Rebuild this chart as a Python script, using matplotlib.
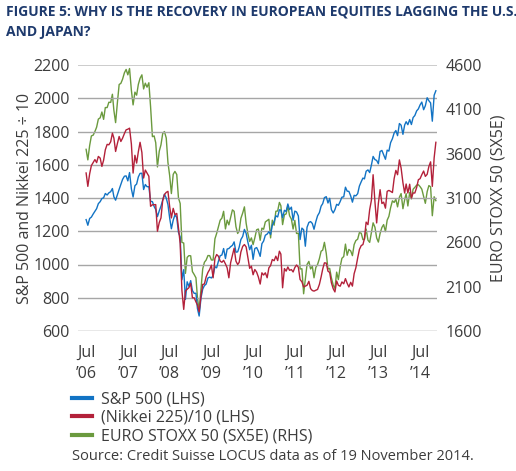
import matplotlib.pyplot as plt
import pandas as pd

# semi-monthly points (15th and month end) from 30 Jun 2006 to mid Nov 2014
sp500 = [
    # 2006 (from Jun 30)
    1270, 1236, 1277, 1285, 1304, 1320, 1336, 1366, 1378, 1397, 1401, 1427, 1418,
    # 2007
    1431, 1438, 1457, 1407, 1387, 1421, 1452, 1482, 1512, 1531, 1533, 1503,
    1553, 1455, 1406, 1474, 1484, 1527, 1548, 1549, 1451, 1481, 1468, 1468,
    # 2008
    1380, 1378, 1349, 1331, 1288, 1323, 1351, 1386, 1423, 1400, 1360, 1280,
    1215, 1267, 1298, 1283, 1193, 1166, 908, 969, 790, 896, 869, 903,
    # 2009
    843, 826, 827, 735, 690, 798, 852, 873, 882, 919, 924, 919,
    932, 987, 980, 1021, 1053, 1057, 1096, 1036, 1093, 1096, 1107, 1115,
    # 2010
    1136, 1074, 1076, 1104, 1150, 1169, 1211, 1187, 1135, 1089, 1116, 1031,
    1096, 1102, 1080, 1049, 1125, 1141, 1176, 1183, 1197, 1181, 1236, 1258,
    # 2011
    1293, 1286, 1329, 1327, 1281, 1326, 1319, 1364, 1330, 1345, 1266, 1321,
    1316, 1292, 1150, 1219, 1209, 1110, 1224, 1253, 1258, 1247, 1212, 1258,
    # 2012
    1293, 1312, 1351, 1366, 1402, 1408, 1370, 1398, 1330, 1310, 1330, 1362,
    1356, 1379, 1405, 1407, 1465, 1441, 1440, 1412, 1375, 1416, 1413, 1426,
    # 2013
    1472, 1498, 1520, 1515, 1561, 1569, 1553, 1598, 1650, 1631, 1626, 1606,
    1680, 1686, 1661, 1633, 1688, 1682, 1733, 1757, 1791, 1806, 1775, 1848,
    # 2014
    1838, 1783, 1839, 1859, 1841, 1872, 1842, 1884, 1896, 1924, 1936, 1960,
    1977, 1931, 1955, 2003, 1985, 1972, 1862, 2018, 2045,
]

nikkei = [
    # 2006
    15505, 14700, 15457, 15950, 16140, 16310, 16128, 16500, 16399, 15900, 16274, 16900, 17226,
    # 2007
    17200, 17383, 17900, 17604, 16800, 17288, 17700, 17400, 17600, 17876, 18100, 18138,
    18200, 17249, 15500, 16569, 16100, 16786, 17350, 16738, 15200, 15681, 15500, 15308,
    # 2008
    13500, 13592, 13600, 13603, 12000, 12526, 12800, 13850, 14200, 14339, 14400, 13482,
    12800, 13377, 13000, 13073, 12200, 11260, 8450, 7300, 8400, 8512, 8600, 8860,
    # 2009
    8000, 7994, 7750, 7568, 7150, 8110, 8800, 8828, 9250, 9523, 9700, 9958,
    9200, 10357, 10600, 10493, 10200, 10133, 10250, 10035, 9800, 9200, 10100, 10546,
    # 2010
    10980, 10198, 10000, 10126, 10750, 11090, 11200, 11057, 10450, 9769, 9900, 9383,
    9700, 9537, 9250, 8824, 9500, 9369, 9500, 9202, 9800, 9937, 10300, 10229,
    # 2011
    10500, 10237, 10800, 10624, 8600, 9755, 9600, 9850, 9650, 9694, 9550, 9816,
    9970, 9833, 9100, 8955, 8650, 8700, 8750, 8988, 8550, 8435, 8400, 8455,
    # 2012
    8500, 8803, 9250, 9723, 10100, 10084, 9600, 9521, 8900, 8543, 8350, 9007,
    8750, 8695, 8950, 8840, 9150, 8870, 8650, 8928, 8700, 9446, 9800, 10395,
    # 2013
    10900, 11139, 11200, 11559, 12550, 12398, 13300, 13861, 15400, 13775, 12500, 13677,
    14500, 13668, 13750, 13389, 14400, 14456, 14400, 14328, 15165, 15662, 15400, 16291,
    # 2014
    15800, 14915, 14300, 14841, 14300, 14828, 14000, 14304, 14300, 14632, 15100, 15162,
    15400, 15621, 15300, 15425, 15900, 16174, 14700, 16414, 17350,
]

sx5e = [
    # 2006
    3649, 3530, 3692, 3800, 3809, 3850, 3899, 3990, 4004, 4070, 3987, 4120, 4120,
    # 2007
    4180, 4178, 4270, 4088, 3950, 4181, 4380, 4393, 4440, 4512, 4550, 4489,
    4560, 4315, 4150, 4294, 4260, 4382, 4450, 4489, 4330, 4395, 4350, 4400,
    # 2008
    4130, 3792, 3800, 3724, 3450, 3628, 3700, 3826, 3850, 3777, 3500, 3353,
    3150, 3367, 3400, 3365, 3100, 3038, 2600, 2592, 2250, 2430, 2450, 2448,
    # 2009
    2270, 2236, 2200, 1977, 1830, 2071, 2300, 2375, 2400, 2451, 2450, 2401,
    2400, 2639, 2700, 2775, 2850, 2873, 2950, 2751, 2850, 2797, 2880, 2966,
    # 2010
    2950, 2776, 2700, 2728, 2870, 2931, 3000, 2817, 2700, 2610, 2650, 2574,
    2650, 2742, 2750, 2623, 2760, 2748, 2830, 2845, 2860, 2650, 2850, 2793,
    # 2011
    2950, 2954, 3050, 3013, 2800, 2911, 2920, 3011, 2900, 2862, 2750, 2848,
    2700, 2704, 2300, 2302, 2020, 2180, 2350, 2385, 2300, 2330, 2200, 2317,
    # 2012
    2350, 2416, 2500, 2512, 2600, 2477, 2300, 2306, 2200, 2118, 2080, 2264,
    2180, 2325, 2420, 2440, 2580, 2454, 2520, 2503, 2450, 2575, 2620, 2636,
    # 2013
    2710, 2703, 2630, 2633, 2750, 2624, 2600, 2712, 2820, 2770, 2650, 2603,
    2700, 2768, 2800, 2721, 2850, 2893, 2990, 3068, 3050, 3086, 3000, 3109,
    # 2014
    3150, 2979, 3080, 3149, 3010, 3162, 3090, 3199, 3220, 3245, 3250, 3228,
    3200, 3116, 3040, 3172, 3240, 3226, 2900, 3114, 3070,
]

years = list(range(2006, 2015))
xlabels = ["Jul\n\u2019%02d" % (y % 100) for y in years]

plt.rcParams['font.family'] = ['Open Sans', 'DejaVu Sans']
txt = '#3c3c3c'

def sm_dates(n):
    return pd.date_range('2006-06-30', periods=n, freq='SME')

fig = plt.figure(figsize=(5.16, 4.71), dpi=100)
ax = fig.add_axes([78/516, 1 - 331/471, (437-78)/516, (331-65)/471])
ax2 = ax.twinx()

l1, = ax.plot(sm_dates(len(sp500)), sp500, c='#1273c4', lw=1.0, label='S&P 500 (LHS)')
l2, = ax.plot(sm_dates(len(nikkei)), [v / 10 for v in nikkei], c='#b3213a', lw=1.0,
              label='(Nikkei 225)/10 (LHS)')
l3, = ax2.plot(sm_dates(len(sx5e)), sx5e, c='#6b9a3e', lw=1.0,
               label='EURO STOXX 50 (SX5E) (RHS)')
# green sits behind the others
ax2.set_zorder(0)
ax.set_zorder(1)
ax.patch.set_visible(False)

ax.set_ylim(600, 2200)
ax.set_yticks(range(600, 2201, 200))
ax2.set_ylim(1600, 4600)
ax2.set_yticks(range(1600, 4601, 500))
ax.set_xlim(pd.Timestamp('2006-04-20'), pd.Timestamp('2014-11-25'))
ax.set_xticks([pd.Timestamp('%d-07-01' % y) for y in years])
ax.set_xticklabels(xlabels)

for v in range(600, 2201, 200):
    col = '#c8c8c8' if v == 2200 else ('#8c8c8c' if v == 600 else '#a6a6a6')
    ax.axhline(v, color=col, lw=1.3 if v == 2200 else 1.0, zorder=0)

for a in (ax, ax2):
    for s in a.spines.values():
        s.set_visible(False)
    a.tick_params(length=0, labelsize=11.5, labelcolor=txt)
ax.tick_params(axis='y', pad=6)
ax.tick_params(axis='x', pad=10)
ax2.tick_params(axis='y', pad=6)
for t in ax.get_xticklabels():
    t.set_linespacing(1.4)

ax.set_ylabel('S&P 500 and Nikkei 225 \u00f7 10', fontsize=11.5, color=txt, labelpad=0)
ax2.set_ylabel('EURO STOXX 50 (SX5E)', fontsize=11.5, color=txt, labelpad=6)

fig.text(6/516, 1 - 12/471, 'FIGURE 5: WHY IS THE RECOVERY IN EUROPEAN EQUITIES LAGGING THE U.S.',
         fontsize=10, fontweight='bold', color='#1e3a6d', va='center')
fig.text(6/516, 1 - 32/471, 'AND JAPAN?', fontsize=10, fontweight='bold',
         color='#1e3a6d', va='center')

leg = fig.legend(handles=[l1, l2, l3], loc='upper left', bbox_to_anchor=(66/516, 1 - 385/471),
                 frameon=False, fontsize=11.5, handlelength=1.2, handletextpad=0.6,
                 labelspacing=0.15, borderaxespad=0)
for h in leg.get_lines():
    h.set_linewidth(3)
for t in leg.get_texts():
    t.set_color(txt)

fig.text(72/516, 1 - 456/471, 'Source: Credit Suisse LOCUS data as of 19 November 2014.',
         fontsize=10.5, color=txt, va='center')

plt.savefig('out.png', dpi=100)
